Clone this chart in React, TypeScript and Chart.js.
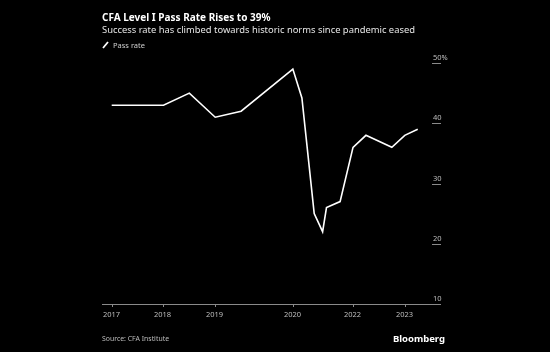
import React, { useEffect, useRef } from "react";
import { Chart, registerables } from "chart.js";

Chart.register(...registerables);

// Session positions along the x axis (quarter-like index units)
const sessionPositions = [0, 4, 6, 8, 10, 14, 14.7, 15.65, 16.3, 16.6, 17.65, 18.65, 19.65, 21.65, 22.65, 23.65];
const passRates = [43, 43, 45, 41, 42, 49, 44.2, 25, 22, 26, 27, 36, 38, 36, 38, 39];
const xTickPositions = [0, 4, 8, 14, 18.65, 22.65];
const xTickLabels = ["2017", "2018", "2019", "2020", "2022", "2023"];
const yTickValues = [10, 20, 30, 40, 50];
const yTickLabels = ["10", "20", "30", "40", "50%"];

const FONT = "'Noto Sans', 'DejaVu Sans', sans-serif";

const axesPlugin = {
  id: "customAxes",
  afterDraw(chart: any) {
    const ctx = chart.ctx;
    const xs = chart.scales.x;
    const ys = chart.scales.y;
    const area = chart.chartArea;
    ctx.save();
    const yBase = ys.getPixelForValue(10);
    ctx.strokeStyle = "#8a8a8a";
    ctx.lineWidth = 1;
    ctx.beginPath();
    ctx.moveTo(area.left, Math.round(yBase) + 0.5);
    ctx.lineTo(area.right, Math.round(yBase) + 0.5);
    ctx.stroke();
    ctx.fillStyle = "#bdbdbd";
    ctx.font = `7.5px ${FONT}`;
    ctx.textAlign = "center";
    ctx.textBaseline = "top";
    xTickPositions.forEach((v, i) => {
      const px = Math.round(xs.getPixelForValue(v)) + 0.5;
      ctx.beginPath();
      ctx.moveTo(px, Math.round(yBase));
      ctx.lineTo(px, Math.round(yBase) + 3);
      ctx.stroke();
      ctx.fillText(xTickLabels[i], px - 1, yBase + 7);
    });
    ctx.textAlign = "left";
    ctx.textBaseline = "alphabetic";
    yTickValues.forEach((v, i) => {
      const py = Math.round(ys.getPixelForValue(v)) + 0.5;
      if (v !== 10) {
        ctx.beginPath();
        ctx.moveTo(area.right - 9, py);
        ctx.lineTo(area.right, py);
        ctx.stroke();
      }
      ctx.fillText(yTickLabels[i], area.right - 8, py - 4);
    });
    ctx.restore();
  },
};

export default function App() {
  const canvasRef = useRef<HTMLCanvasElement | null>(null);

  useEffect(() => {
    document.body.style.margin = "0";
    document.body.style.background = "#000";
    const canvas = canvasRef.current;
    if (!canvas) return;
    const chart = new Chart(canvas, {
      type: "line",
      data: {
        datasets: [
          {
            label: "Pass rate",
            data: sessionPositions.map((x, i) => ({ x, y: passRates[i] })),
            borderColor: "#ffffff",
            borderWidth: 1.6,
            pointRadius: 0,
            tension: 0,
            fill: false,
          },
        ],
      },
      options: {
        animation: false,
        responsive: false,
        maintainAspectRatio: false,
        layout: { padding: { left: 102, right: 109, top: 63, bottom: 48 } },
        plugins: { legend: { display: false }, tooltip: { enabled: false }, title: { display: false } },
        scales: {
          x: { type: "linear", min: -0.75, max: 25.45, display: false },
          y: { type: "linear", min: 10, max: 50, display: false },
        },
      },
      plugins: [axesPlugin],
    });
    return () => chart.destroy();
  }, []);

  return (
    <div style={{ position: "relative", width: 550, height: 352, background: "#000", fontFamily: FONT, overflow: "hidden" }}>
      <canvas ref={canvasRef} width={550} height={352} style={{ position: "absolute", left: 0, top: 0 }} />
      <div style={{ position: "absolute", left: 102, top: 10, color: "#fff", fontSize: 10, fontWeight: 700, whiteSpace: "nowrap" }}>
        CFA Level I Pass Rate Rises to 39%
      </div>
      <div style={{ position: "absolute", left: 102, top: 23, color: "#e6e6e6", fontSize: 9.4, whiteSpace: "nowrap" }}>
        Success rate has climbed towards historic norms since pandemic eased
      </div>
      <div style={{ position: "absolute", left: 102, top: 40, color: "#cfcfcf", fontSize: 7.5, whiteSpace: "nowrap", display: "flex", alignItems: "center" }}>
        <svg width="8" height="8" style={{ marginRight: 3 }}>
          <line x1="1" y1="7" x2="6" y2="1" stroke="#fff" strokeWidth="1.8" />
        </svg>
        Pass rate
      </div>
      <div style={{ position: "absolute", left: 102, top: 334, color: "#bdbdbd", fontSize: 6.9, whiteSpace: "nowrap" }}>
        Source: CFA Institute
      </div>
      <div style={{ position: "absolute", right: 105, top: 332, color: "#fff", fontSize: 9.5, fontWeight: 700, whiteSpace: "nowrap" }}>
        Bloomberg
      </div>
    </div>
  );
}
